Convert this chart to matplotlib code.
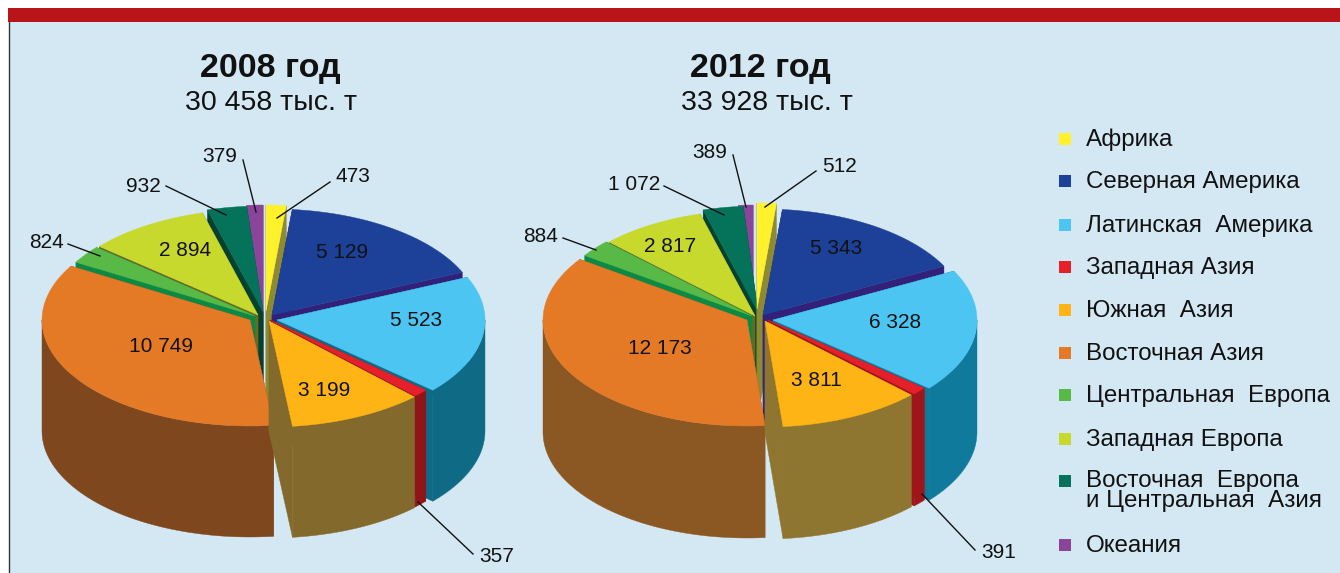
import numpy as np
import matplotlib
matplotlib.use('Agg')
import matplotlib.pyplot as plt
from matplotlib.patches import Rectangle

plt.rcParams['font.family'] = ['Liberation Sans', 'DejaVu Sans']

# regions, clockwise from the top of the pie
regions = ['Африка', 'Северная Америка', 'Латинская  Америка', 'Западная Азия',
           'Южная  Азия', 'Восточная Азия', 'Центральная  Европа', 'Западная Европа',
           'Восточная  Европа\nи Центральная  Азия', 'Океания']
values_2008 = [473, 5129, 5523, 357, 3199, 10749, 824, 2894, 932, 379]
values_2012 = [512, 5343, 6328, 391, 3811, 12173, 884, 2817, 1072, 389]
title_2008 = ['2008 год', '30 458 тыс. т']
title_2012 = ['2012 год', '33 928 тыс. т']

top_colors = ['#fff22d', '#1d4199', '#4cc5f2', '#e5202a', '#fdb414',
              '#e57a26', '#58b947', '#c8d92e', '#05735a', '#8a4499']
edge_colors = ['#8c8a32', '#33207a', '#0f6a86', '#8f1518', '#836a2c',
               '#7f471e', '#0b8a45', '#6a6a20', '#04412f', '#4a2560']
outer_2012 = {4: '#8f7630', 5: '#8b5722', 2: '#0f7a9c', 3: '#a01519'}

# back slices first, the front ones paint over them
draw_order = [9, 8, 0, 7, 1, 6, 2, 3, 5, 4]

# layout in pixels
apex_2008 = [(266, 311), (272, 315), (277, 320), (270, 320), (269, 321),
             (250, 320), (255, 316), (258, 315), (263, 312), (263, 311)]
apex_2012 = [(757, 309), (763, 315), (773, 320), (768, 320), (765, 321),
             (747, 320), (752, 316), (755, 316), (758, 312), (753, 311)]
inner_2008 = {1: (342, 251), 2: (416, 320), 4: (324, 389), 5: (161, 345), 7: (185, 249)}
inner_2012 = {1: (836, 248), 2: (895, 321), 4: (816, 380), 5: (660, 347), 7: (670, 246)}
# index: text centre, leader start, leader end
outer_2008 = {0: ((353, 176), (330, 182), (277, 218)), 9: ((220, 156), (243, 160), (256, 212)),
              8: ((143, 185), (166, 186), (226, 215)), 6: ((47, 241), (68, 244), (100, 256)),
              3: ((497, 555), (473, 554), (418, 502))}
outer_label_2012 = {0: ((840, 165), (816, 171), (765, 207)), 9: ((710, 152), (733, 155), (746, 207)),
                    8: ((634, 183), (664, 186), (724, 215)), 6: ((541, 235), (563, 238), (596, 250)),
                    3: ((999, 551), (975, 550), (922, 494))}
legend_y = [139, 181, 225, 267, 310, 353, 395, 439, 481, 545]

fig = plt.figure(figsize=(13.4, 5.73), dpi=100, facecolor='white')
ax = fig.add_axes([0, 0, 1, 1])
ax.set_xlim(0, 1340)
ax.set_ylim(573, 0)
ax.axis('off')

ax.add_patch(Rectangle((9, 22), 1331, 551, fc='#d4e8f4', ec='none', zorder=0))
ax.add_patch(Rectangle((8, 8), 1332, 14, fc='#b8141a', ec='none', zorder=1))
ax.plot([9, 9], [22, 573], color='#333333', lw=1, zorder=1)


def fmt(v):
    return f'{v:,}'.replace(',', ' ')


def arc(cx, cy, rx, ry, a0, a1):
    t = np.radians(np.linspace(a0, a1, 80))
    return cx + rx * np.sin(t), cy - ry * np.cos(t)


def draw_pie(values, apexes, rx, ry, depth, clip_x, wall_over):
    clip = Rectangle((0, 0), clip_x, 573, transform=ax.transData)
    angles = np.concatenate([[0], np.cumsum(values) / np.sum(values) * 360])
    shapes = []
    for i in draw_order:
        a0, a1 = angles[i], angles[i + 1]
        cx, cy = apexes[i]
        # the two cut faces
        for a in (a0, a1):
            ex, ey = arc(cx, cy, rx, ry, a, a)
            shapes += ax.fill([cx, ex[0], ex[0], cx], [cy, ey[0], ey[0] + depth, cy + depth],
                              color=wall_over.get(i, edge_colors[i]), lw=0.3)
        # outer wall, only the part that faces the viewer
        lo, hi = max(a0, 90), min(a1, 270)
        if lo < hi:
            wx, wy = arc(cx, cy, rx, ry, lo, hi)
            wall = wall_over.get(i, edge_colors[i])
            shapes += ax.fill(np.r_[wx, wx[::-1]], np.r_[wy, wy[::-1] + depth], color=wall, lw=0.3)
        tx, ty = arc(cx, cy, rx, ry, a0, a1)
        shapes += ax.fill(np.r_[cx, tx], np.r_[cy, ty], color=top_colors[i], lw=0.3)
    for s in shapes:
        s.set_clip_path(clip)


def labels(values, inner, outer):
    for i, (x, y) in inner.items():
        ax.text(x, y + 1, fmt(values[i]), fontsize=15, ha='center', va='center', color='#111111')
    for i, (pos, p0, p1) in outer.items():
        ax.text(pos[0], pos[1] + 1, fmt(values[i]), fontsize=15, ha='center', va='center', color='#111111')
        ax.plot([p0[0], p1[0]], [p0[1], p1[1]], color='#111111', lw=1)


draw_pie(values_2008, apex_2008, 208, 106, 111, 486, {})
draw_pie(values_2012, apex_2012, 204, 106, 112, 978, outer_2012)
labels(values_2008, inner_2008, outer_2008)
labels(values_2012, inner_2012, outer_label_2012)

ax.text(270, 68, title_2008[0], fontsize=24.5, fontweight='bold', ha='center', va='center', color='#111111')
ax.text(271, 103, title_2008[1], fontsize=20.5, ha='center', va='center', color='#111111')
ax.text(760, 68, title_2012[0], fontsize=24.5, fontweight='bold', ha='center', va='center', color='#111111')
ax.text(767, 103, title_2012[1], fontsize=20.5, ha='center', va='center', color='#111111')

for name, color, y in zip(regions, top_colors, legend_y):
    ax.add_patch(Rectangle((1059, y - 6), 12, 12, fc=color, ec='none'))
    if '\n' in name:
        ax.text(1086, y + 10, name, fontsize=17.4, ha='left', va='center', color='#111111', linespacing=0.85)
    else:
        ax.text(1086, y + 1, name, fontsize=17.4, ha='left', va='center', color='#111111')

fig.savefig('out.png', dpi=100, facecolor='white')
